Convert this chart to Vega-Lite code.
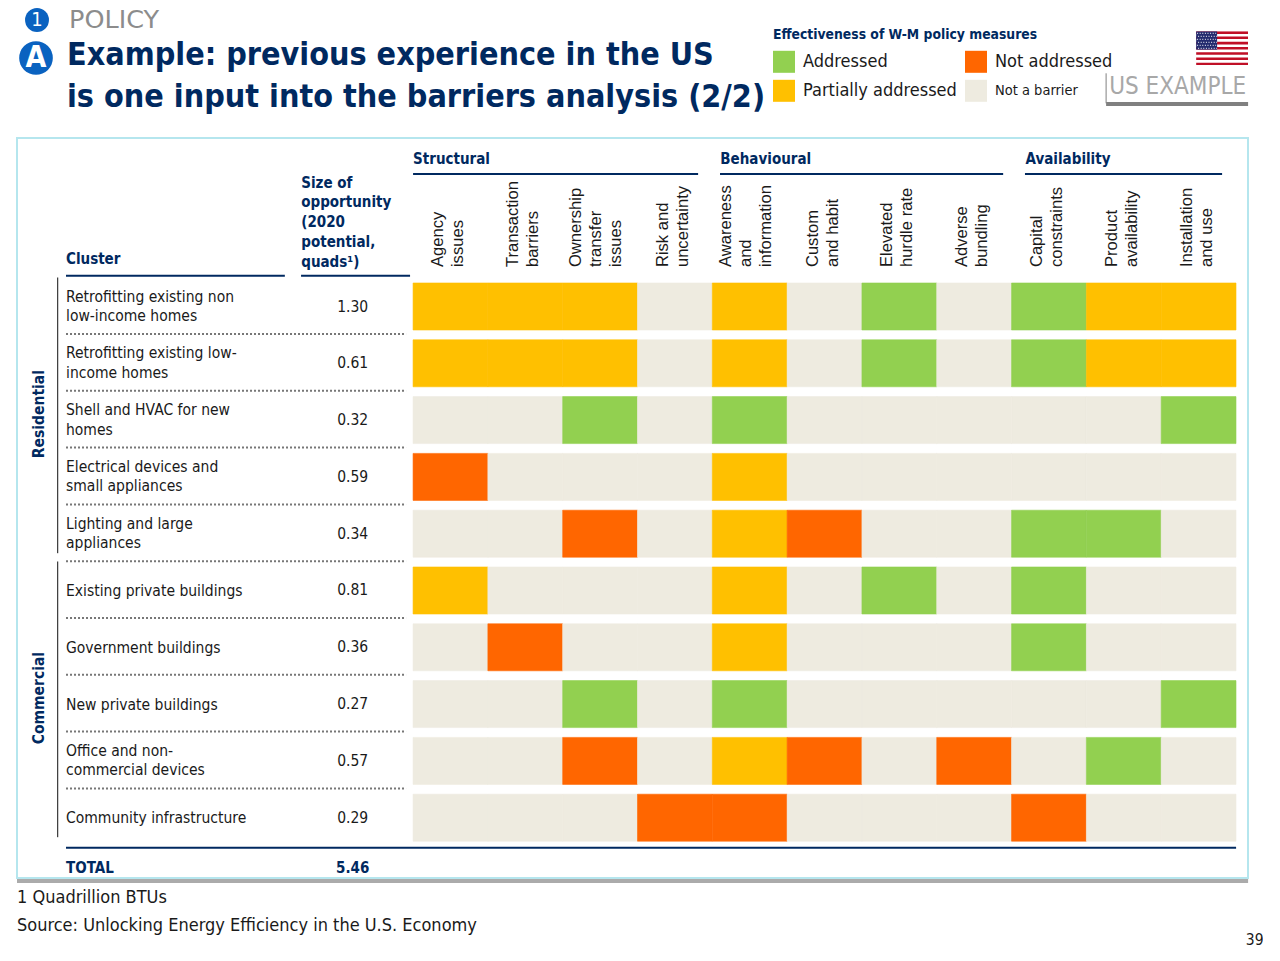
{
  "$schema": "https://vega.github.io/schema/vega-lite/v6.json",
  "autosize": "none",
  "padding": {"left": 17, "top": 138, "right": 15, "bottom": 83},
  "width": 1231,
  "height": 740,
  "background": "white",
  "view": {"stroke": "#b5e6ee", "strokeWidth": 2, "fill": "white"},
  "config": {
    "font": "DejaVu Sans Condensed",
    "axis": {"disable": true},
    "text": {"font": "DejaVu Sans Condensed", "fontSize": 15.5, "color": "#1a1a1a"}
  },
  "datasets": {
    "clusters": [
      {"cluster": "Retrofitting existing non low-income homes", "label": "Retrofitting existing non|low-income homes", "size": 1.30},
      {"cluster": "Retrofitting existing low-income homes", "label": "Retrofitting existing low-|income homes", "size": 0.61},
      {"cluster": "Shell and HVAC for new homes", "label": "Shell and HVAC for new|homes", "size": 0.32},
      {"cluster": "Electrical devices and small appliances", "label": "Electrical devices and|small appliances", "size": 0.59},
      {"cluster": "Lighting and large appliances", "label": "Lighting and large|appliances", "size": 0.34},
      {"cluster": "Existing private buildings", "label": "Existing private buildings", "size": 0.81},
      {"cluster": "Government buildings", "label": "Government buildings", "size": 0.36},
      {"cluster": "New private buildings", "label": "New private buildings", "size": 0.27},
      {"cluster": "Office and non-commercial devices", "label": "Office and non-|commercial devices", "size": 0.57},
      {"cluster": "Community infrastructure", "label": "Community infrastructure", "size": 0.29}
    ],
    "barriers": [
      {"barrier": "Agency issues", "label": "Agency|issues"},
      {"barrier": "Transaction barriers", "label": "Transaction|barriers"},
      {"barrier": "Ownership transfer issues", "label": "Ownership|transfer|issues"},
      {"barrier": "Risk and uncertainty", "label": "Risk and|uncertainty"},
      {"barrier": "Awareness and information", "label": "Awareness|and|information"},
      {"barrier": "Custom and habit", "label": "Custom|and habit"},
      {"barrier": "Elevated hurdle rate", "label": "Elevated|hurdle rate"},
      {"barrier": "Adverse bundling", "label": "Adverse|bundling"},
      {"barrier": "Capital constraints", "label": "Capital|constraints"},
      {"barrier": "Product availability", "label": "Product|availability"},
      {"barrier": "Installation and use", "label": "Installation|and use"}
    ],
    "cells": [
      {"cluster": "Retrofitting existing non low-income homes", "barrier": "Agency issues", "status": "Partially addressed"},
      {"cluster": "Retrofitting existing non low-income homes", "barrier": "Transaction barriers", "status": "Partially addressed"},
      {"cluster": "Retrofitting existing non low-income homes", "barrier": "Ownership transfer issues", "status": "Partially addressed"},
      {"cluster": "Retrofitting existing non low-income homes", "barrier": "Risk and uncertainty", "status": "Not a barrier"},
      {"cluster": "Retrofitting existing non low-income homes", "barrier": "Awareness and information", "status": "Partially addressed"},
      {"cluster": "Retrofitting existing non low-income homes", "barrier": "Custom and habit", "status": "Not a barrier"},
      {"cluster": "Retrofitting existing non low-income homes", "barrier": "Elevated hurdle rate", "status": "Addressed"},
      {"cluster": "Retrofitting existing non low-income homes", "barrier": "Adverse bundling", "status": "Not a barrier"},
      {"cluster": "Retrofitting existing non low-income homes", "barrier": "Capital constraints", "status": "Addressed"},
      {"cluster": "Retrofitting existing non low-income homes", "barrier": "Product availability", "status": "Partially addressed"},
      {"cluster": "Retrofitting existing non low-income homes", "barrier": "Installation and use", "status": "Partially addressed"},
      {"cluster": "Retrofitting existing low-income homes", "barrier": "Agency issues", "status": "Partially addressed"},
      {"cluster": "Retrofitting existing low-income homes", "barrier": "Transaction barriers", "status": "Partially addressed"},
      {"cluster": "Retrofitting existing low-income homes", "barrier": "Ownership transfer issues", "status": "Partially addressed"},
      {"cluster": "Retrofitting existing low-income homes", "barrier": "Risk and uncertainty", "status": "Not a barrier"},
      {"cluster": "Retrofitting existing low-income homes", "barrier": "Awareness and information", "status": "Partially addressed"},
      {"cluster": "Retrofitting existing low-income homes", "barrier": "Custom and habit", "status": "Not a barrier"},
      {"cluster": "Retrofitting existing low-income homes", "barrier": "Elevated hurdle rate", "status": "Addressed"},
      {"cluster": "Retrofitting existing low-income homes", "barrier": "Adverse bundling", "status": "Not a barrier"},
      {"cluster": "Retrofitting existing low-income homes", "barrier": "Capital constraints", "status": "Addressed"},
      {"cluster": "Retrofitting existing low-income homes", "barrier": "Product availability", "status": "Partially addressed"},
      {"cluster": "Retrofitting existing low-income homes", "barrier": "Installation and use", "status": "Partially addressed"},
      {"cluster": "Shell and HVAC for new homes", "barrier": "Agency issues", "status": "Not a barrier"},
      {"cluster": "Shell and HVAC for new homes", "barrier": "Transaction barriers", "status": "Not a barrier"},
      {"cluster": "Shell and HVAC for new homes", "barrier": "Ownership transfer issues", "status": "Addressed"},
      {"cluster": "Shell and HVAC for new homes", "barrier": "Risk and uncertainty", "status": "Not a barrier"},
      {"cluster": "Shell and HVAC for new homes", "barrier": "Awareness and information", "status": "Addressed"},
      {"cluster": "Shell and HVAC for new homes", "barrier": "Custom and habit", "status": "Not a barrier"},
      {"cluster": "Shell and HVAC for new homes", "barrier": "Elevated hurdle rate", "status": "Not a barrier"},
      {"cluster": "Shell and HVAC for new homes", "barrier": "Adverse bundling", "status": "Not a barrier"},
      {"cluster": "Shell and HVAC for new homes", "barrier": "Capital constraints", "status": "Not a barrier"},
      {"cluster": "Shell and HVAC for new homes", "barrier": "Product availability", "status": "Not a barrier"},
      {"cluster": "Shell and HVAC for new homes", "barrier": "Installation and use", "status": "Addressed"},
      {"cluster": "Electrical devices and small appliances", "barrier": "Agency issues", "status": "Not addressed"},
      {"cluster": "Electrical devices and small appliances", "barrier": "Transaction barriers", "status": "Not a barrier"},
      {"cluster": "Electrical devices and small appliances", "barrier": "Ownership transfer issues", "status": "Not a barrier"},
      {"cluster": "Electrical devices and small appliances", "barrier": "Risk and uncertainty", "status": "Not a barrier"},
      {"cluster": "Electrical devices and small appliances", "barrier": "Awareness and information", "status": "Partially addressed"},
      {"cluster": "Electrical devices and small appliances", "barrier": "Custom and habit", "status": "Not a barrier"},
      {"cluster": "Electrical devices and small appliances", "barrier": "Elevated hurdle rate", "status": "Not a barrier"},
      {"cluster": "Electrical devices and small appliances", "barrier": "Adverse bundling", "status": "Not a barrier"},
      {"cluster": "Electrical devices and small appliances", "barrier": "Capital constraints", "status": "Not a barrier"},
      {"cluster": "Electrical devices and small appliances", "barrier": "Product availability", "status": "Not a barrier"},
      {"cluster": "Electrical devices and small appliances", "barrier": "Installation and use", "status": "Not a barrier"},
      {"cluster": "Lighting and large appliances", "barrier": "Agency issues", "status": "Not a barrier"},
      {"cluster": "Lighting and large appliances", "barrier": "Transaction barriers", "status": "Not a barrier"},
      {"cluster": "Lighting and large appliances", "barrier": "Ownership transfer issues", "status": "Not addressed"},
      {"cluster": "Lighting and large appliances", "barrier": "Risk and uncertainty", "status": "Not a barrier"},
      {"cluster": "Lighting and large appliances", "barrier": "Awareness and information", "status": "Partially addressed"},
      {"cluster": "Lighting and large appliances", "barrier": "Custom and habit", "status": "Not addressed"},
      {"cluster": "Lighting and large appliances", "barrier": "Elevated hurdle rate", "status": "Not a barrier"},
      {"cluster": "Lighting and large appliances", "barrier": "Adverse bundling", "status": "Not a barrier"},
      {"cluster": "Lighting and large appliances", "barrier": "Capital constraints", "status": "Addressed"},
      {"cluster": "Lighting and large appliances", "barrier": "Product availability", "status": "Addressed"},
      {"cluster": "Lighting and large appliances", "barrier": "Installation and use", "status": "Not a barrier"},
      {"cluster": "Existing private buildings", "barrier": "Agency issues", "status": "Partially addressed"},
      {"cluster": "Existing private buildings", "barrier": "Transaction barriers", "status": "Not a barrier"},
      {"cluster": "Existing private buildings", "barrier": "Ownership transfer issues", "status": "Not a barrier"},
      {"cluster": "Existing private buildings", "barrier": "Risk and uncertainty", "status": "Not a barrier"},
      {"cluster": "Existing private buildings", "barrier": "Awareness and information", "status": "Partially addressed"},
      {"cluster": "Existing private buildings", "barrier": "Custom and habit", "status": "Not a barrier"},
      {"cluster": "Existing private buildings", "barrier": "Elevated hurdle rate", "status": "Addressed"},
      {"cluster": "Existing private buildings", "barrier": "Adverse bundling", "status": "Not a barrier"},
      {"cluster": "Existing private buildings", "barrier": "Capital constraints", "status": "Addressed"},
      {"cluster": "Existing private buildings", "barrier": "Product availability", "status": "Not a barrier"},
      {"cluster": "Existing private buildings", "barrier": "Installation and use", "status": "Not a barrier"},
      {"cluster": "Government buildings", "barrier": "Agency issues", "status": "Not a barrier"},
      {"cluster": "Government buildings", "barrier": "Transaction barriers", "status": "Not addressed"},
      {"cluster": "Government buildings", "barrier": "Ownership transfer issues", "status": "Not a barrier"},
      {"cluster": "Government buildings", "barrier": "Risk and uncertainty", "status": "Not a barrier"},
      {"cluster": "Government buildings", "barrier": "Awareness and information", "status": "Partially addressed"},
      {"cluster": "Government buildings", "barrier": "Custom and habit", "status": "Not a barrier"},
      {"cluster": "Government buildings", "barrier": "Elevated hurdle rate", "status": "Not a barrier"},
      {"cluster": "Government buildings", "barrier": "Adverse bundling", "status": "Not a barrier"},
      {"cluster": "Government buildings", "barrier": "Capital constraints", "status": "Addressed"},
      {"cluster": "Government buildings", "barrier": "Product availability", "status": "Not a barrier"},
      {"cluster": "Government buildings", "barrier": "Installation and use", "status": "Not a barrier"},
      {"cluster": "New private buildings", "barrier": "Agency issues", "status": "Not a barrier"},
      {"cluster": "New private buildings", "barrier": "Transaction barriers", "status": "Not a barrier"},
      {"cluster": "New private buildings", "barrier": "Ownership transfer issues", "status": "Addressed"},
      {"cluster": "New private buildings", "barrier": "Risk and uncertainty", "status": "Not a barrier"},
      {"cluster": "New private buildings", "barrier": "Awareness and information", "status": "Addressed"},
      {"cluster": "New private buildings", "barrier": "Custom and habit", "status": "Not a barrier"},
      {"cluster": "New private buildings", "barrier": "Elevated hurdle rate", "status": "Not a barrier"},
      {"cluster": "New private buildings", "barrier": "Adverse bundling", "status": "Not a barrier"},
      {"cluster": "New private buildings", "barrier": "Capital constraints", "status": "Not a barrier"},
      {"cluster": "New private buildings", "barrier": "Product availability", "status": "Not a barrier"},
      {"cluster": "New private buildings", "barrier": "Installation and use", "status": "Addressed"},
      {"cluster": "Office and non-commercial devices", "barrier": "Agency issues", "status": "Not a barrier"},
      {"cluster": "Office and non-commercial devices", "barrier": "Transaction barriers", "status": "Not a barrier"},
      {"cluster": "Office and non-commercial devices", "barrier": "Ownership transfer issues", "status": "Not addressed"},
      {"cluster": "Office and non-commercial devices", "barrier": "Risk and uncertainty", "status": "Not a barrier"},
      {"cluster": "Office and non-commercial devices", "barrier": "Awareness and information", "status": "Partially addressed"},
      {"cluster": "Office and non-commercial devices", "barrier": "Custom and habit", "status": "Not addressed"},
      {"cluster": "Office and non-commercial devices", "barrier": "Elevated hurdle rate", "status": "Not a barrier"},
      {"cluster": "Office and non-commercial devices", "barrier": "Adverse bundling", "status": "Not addressed"},
      {"cluster": "Office and non-commercial devices", "barrier": "Capital constraints", "status": "Not a barrier"},
      {"cluster": "Office and non-commercial devices", "barrier": "Product availability", "status": "Addressed"},
      {"cluster": "Office and non-commercial devices", "barrier": "Installation and use", "status": "Not a barrier"},
      {"cluster": "Community infrastructure", "barrier": "Agency issues", "status": "Not a barrier"},
      {"cluster": "Community infrastructure", "barrier": "Transaction barriers", "status": "Not a barrier"},
      {"cluster": "Community infrastructure", "barrier": "Ownership transfer issues", "status": "Not a barrier"},
      {"cluster": "Community infrastructure", "barrier": "Risk and uncertainty", "status": "Not addressed"},
      {"cluster": "Community infrastructure", "barrier": "Awareness and information", "status": "Not addressed"},
      {"cluster": "Community infrastructure", "barrier": "Custom and habit", "status": "Not a barrier"},
      {"cluster": "Community infrastructure", "barrier": "Elevated hurdle rate", "status": "Not a barrier"},
      {"cluster": "Community infrastructure", "barrier": "Adverse bundling", "status": "Not a barrier"},
      {"cluster": "Community infrastructure", "barrier": "Capital constraints", "status": "Not addressed"},
      {"cluster": "Community infrastructure", "barrier": "Product availability", "status": "Not a barrier"},
      {"cluster": "Community infrastructure", "barrier": "Installation and use", "status": "Not a barrier"}
    ]
  },
  "data": {"name": "cells"},
  "layer": [
    {
      "mark": {"type": "rect", "strokeWidth": 0.6},
      "encoding": {
        "x": {
          "field": "barrier",
          "type": "nominal",
          "scale": {
            "domain": ["Sector", "Cluster", "Spacer1", "Spacer2", "Size", "Agency issues", "Transaction barriers", "Ownership transfer issues", "Risk and uncertainty", "Awareness and information", "Custom and habit", "Elevated hurdle rate", "Adverse bundling", "Capital constraints", "Product availability", "Installation and use"],
            "range": [22, 1219],
            "paddingInner": 0,
            "paddingOuter": 0
          }
        },
        "y": {
          "field": "cluster",
          "type": "nominal",
          "scale": {
            "domain": ["Head1", "Head2", "Head3", "Group", "Columns", "Retrofitting existing non low-income homes", "Retrofitting existing low-income homes", "Shell and HVAC for new homes", "Electrical devices and small appliances", "Lighting and large appliances", "Existing private buildings", "Government buildings", "New private buildings", "Office and non-commercial devices", "Community infrastructure", "TOTAL", "Notes"],
            "range": [-139, 816.8],
            "paddingInner": 0.1725,
            "paddingOuter": 0
          }
        },
        "stroke": {
          "field": "status",
          "type": "nominal",
          "scale": {
            "domain": ["Addressed", "Not addressed", "Partially addressed", "Not a barrier"],
            "range": ["#92d050", "#ff6600", "#ffc000", "#eeebe0"]
          },
          "legend": null
        },
        "color": {
          "field": "status",
          "type": "nominal",
          "scale": {
            "domain": ["Addressed", "Not addressed", "Partially addressed", "Not a barrier"],
            "range": ["#92d050", "#ff6600", "#ffc000", "#eeebe0"]
          },
          "legend": {
            "orient": "none",
            "legendX": 756,
            "legendY": -110,
            "columns": 2,
            "direction": "horizontal",
            "title": "Effectiveness of W-M policy measures",
            "titleFont": "DejaVu Sans Condensed",
            "titleFontSize": 13.8,
            "titleFontWeight": "bold",
            "titleColor": "#002960",
            "titlePadding": 9,
            "titleLimit": 400,
            "symbolType": "square",
            "symbolSize": 484,
            "symbolStrokeWidth": 0,
            "labelFont": "DejaVu Sans Condensed",
            "labelFontSize": 18,
            "labelColor": "#1a1a1a",
            "labelOffset": 8,
            "labelLimit": 200,
            "columnPadding": 8,
            "rowPadding": 7,
            "encoding": {
              "labels": {"fontSize": {"condition": {"test": "datum.label === 'Not a barrier'", "value": 14.5}, "value": 18}}
            }
          }
        }
      }
    },
    {
      "data": {"values": [{"text": "Example: previous experience in the US|is one input into the barriers analysis (2/2)"}]},
      "mark": {"type": "text", "align": "left", "baseline": "middle", "lineBreak": "|", "lineHeight": 42, "fontSize": 32, "fontWeight": "bold", "color": "#002960", "dx": 28, "dy": -24},
      "encoding": {
        "x": {"datum": "Sector", "bandPosition": 0},
        "y": {"datum": "Head2"},
        "text": {"field": "text"}
      }
    },
    {
      "data": {"values": [{"note": "panel shadow"}]},
      "mark": {"type": "rule", "color": "#888888", "opacity": 0.7, "strokeWidth": 4, "xOffset": -59.4, "x2Offset": 49.5, "yOffset": 6.5},
      "encoding": {
        "x": {"datum": "Sector"},
        "x2": {"datum": "Installation and use"},
        "y": {"datum": "TOTAL"}
      }
    },
    {
      "data": {"name": "clusters"},
      "transform": [{"filter": "indexof(datum.label, '|') >= 0"}],
      "mark": {"type": "text", "align": "left", "baseline": "middle", "lineBreak": "|", "lineHeight": 19.5, "dx": 27, "dy": -10},
      "encoding": {
        "x": {"datum": "Sector", "bandPosition": 0},
        "y": {"field": "cluster", "type": "nominal"},
        "text": {"field": "label"}
      }
    },
    {
      "data": {"name": "clusters"},
      "transform": [{"filter": "indexof(datum.label, '|') < 0"}],
      "mark": {"type": "text", "align": "left", "baseline": "middle", "dx": 27, "dy": 0.5},
      "encoding": {
        "x": {"datum": "Sector", "bandPosition": 0},
        "y": {"field": "cluster", "type": "nominal"},
        "text": {"field": "label"}
      }
    },
    {
      "data": {"name": "clusters"},
      "mark": {"type": "text", "align": "center", "baseline": "middle", "dx": -23},
      "encoding": {
        "x": {"datum": "Size"},
        "y": {"field": "cluster", "type": "nominal"},
        "text": {"field": "size", "type": "quantitative", "format": ".2f"}
      }
    },
    {
      "data": {"name": "clusters"},
      "transform": [{"filter": "datum.cluster !== 'Community infrastructure'"}],
      "mark": {"type": "rule", "color": "#777777", "strokeWidth": 2, "strokeDash": [2, 2], "xOffset": -10.4, "x2Offset": 30.4, "yOffset": 27.5},
      "encoding": {
        "x": {"datum": "Sector"},
        "x2": {"datum": "Size"},
        "y": {"field": "cluster", "type": "nominal"}
      }
    },
    {
      "data": {"values": [
        {"first": "Retrofitting existing non low-income homes", "last": "Lighting and large appliances"},
        {"first": "Existing private buildings", "last": "Community infrastructure"}
      ]},
      "mark": {"type": "rule", "color": "#111111", "strokeWidth": 1, "yOffset": -29, "y2Offset": 19.5},
      "encoding": {
        "x": {"datum": "Sector", "bandPosition": 0.25},
        "y": {"field": "first", "type": "nominal"},
        "y2": {"field": "last"}
      }
    },
    {
      "data": {"values": [
        {"sector": "Residential", "cluster": "Shell and HVAC for new homes"},
        {"sector": "Commercial", "cluster": "New private buildings"}
      ]},
      "mark": {"type": "text", "angle": 270, "align": "center", "baseline": "middle", "fontWeight": "bold", "color": "#002960", "fontSize": 15.5, "dx": 6},
      "encoding": {
        "x": {"datum": "Sector", "bandPosition": 0},
        "y": {"field": "cluster", "type": "nominal"},
        "text": {"field": "sector"}
      }
    },
    {
      "data": {"name": "barriers"},
      "transform": [{"filter": "split(datum.label, '|').length === 2"}],
      "mark": {"type": "text", "font": "Liberation Sans", "fontSize": 16.6, "angle": 270, "align": "left", "baseline": "middle", "lineBreak": "|", "lineHeight": 20, "dx": -17.4, "dy": -12},
      "encoding": {
        "x": {"field": "barrier", "type": "nominal"},
        "y": {"datum": "Columns"},
        "text": {"field": "label"}
      }
    },
    {
      "data": {"name": "barriers"},
      "transform": [{"filter": "split(datum.label, '|').length === 3"}],
      "mark": {"type": "text", "font": "Liberation Sans", "fontSize": 16.6, "angle": 270, "align": "left", "baseline": "middle", "lineBreak": "|", "lineHeight": 20, "dx": -17.4, "dy": -24},
      "encoding": {
        "x": {"field": "barrier", "type": "nominal"},
        "y": {"datum": "Columns"},
        "text": {"field": "label"}
      }
    },
    {
      "data": {"values": [{"text": "Structural"}]},
      "mark": {"type": "text", "align": "left", "baseline": "middle", "fontWeight": "bold", "color": "#002960", "fontSize": 15, "dy": -34},
      "encoding": {
        "x": {"datum": "Agency issues", "bandPosition": 0},
        "y": {"datum": "Group"},
        "text": {"field": "text"}
      }
    },
    {
      "data": {"values": [{"text": "Behavioural"}]},
      "mark": {"type": "text", "align": "left", "baseline": "middle", "fontWeight": "bold", "color": "#002960", "fontSize": 15, "dx": 8, "dy": -34},
      "encoding": {
        "x": {"datum": "Awareness and information", "bandPosition": 0},
        "y": {"datum": "Group"},
        "text": {"field": "text"}
      }
    },
    {
      "data": {"values": [{"text": "Availability"}]},
      "mark": {"type": "text", "align": "left", "baseline": "middle", "fontWeight": "bold", "color": "#002960", "fontSize": 15, "dx": 14, "dy": -34},
      "encoding": {
        "x": {"datum": "Capital constraints", "bandPosition": 0},
        "y": {"datum": "Group"},
        "text": {"field": "text"}
      }
    },
    {
      "data": {"values": [{"group": "Structural"}]},
      "mark": {"type": "rule", "color": "#002960", "strokeWidth": 2, "xOffset": -37.4, "x2Offset": 23.2, "yOffset": -19},
      "encoding": {
        "x": {"datum": "Agency issues"},
        "x2": {"datum": "Risk and uncertainty"},
        "y": {"datum": "Group"}
      }
    },
    {
      "data": {"values": [{"group": "Behavioural"}]},
      "mark": {"type": "rule", "color": "#002960", "strokeWidth": 2, "xOffset": -29.7, "x2Offset": 29, "yOffset": -19},
      "encoding": {
        "x": {"datum": "Awareness and information"},
        "x2": {"datum": "Adverse bundling"},
        "y": {"datum": "Group"}
      }
    },
    {
      "data": {"values": [{"group": "Availability"}]},
      "mark": {"type": "rule", "color": "#002960", "strokeWidth": 2, "xOffset": -24, "x2Offset": 23.5, "yOffset": -19},
      "encoding": {
        "x": {"datum": "Capital constraints"},
        "x2": {"datum": "Installation and use"},
        "y": {"datum": "Group"}
      }
    },
    {
      "data": {"values": [{"text": "Cluster"}]},
      "mark": {"type": "text", "align": "left", "baseline": "middle", "fontWeight": "bold", "color": "#002960", "fontSize": 15, "dx": 27, "dy": 9.5},
      "encoding": {
        "x": {"datum": "Sector", "bandPosition": 0},
        "y": {"datum": "Columns"},
        "text": {"field": "text"}
      }
    },
    {
      "data": {"values": [{"text": "Size of|opportunity|(2020|potential,|quads¹)"}]},
      "mark": {"type": "text", "align": "left", "baseline": "middle", "lineBreak": "|", "lineHeight": 19.8, "fontWeight": "bold", "color": "#002960", "fontSize": 15, "dx": -37, "dy": -67},
      "encoding": {
        "x": {"datum": "Size", "bandPosition": 0},
        "y": {"datum": "Columns"},
        "text": {"field": "text"}
      }
    },
    {
      "data": {"values": [{"line": "Cluster"}]},
      "mark": {"type": "rule", "color": "#002960", "strokeWidth": 2, "xOffset": -10.4, "x2Offset": -16, "yOffset": 26},
      "encoding": {
        "x": {"datum": "Sector"},
        "x2": {"datum": "Spacer2"},
        "y": {"datum": "Columns"}
      }
    },
    {
      "data": {"values": [{"line": "Size"}]},
      "mark": {"type": "rule", "color": "#002960", "strokeWidth": 2, "xOffset": -74.6, "x2Offset": 34.4, "yOffset": 26},
      "encoding": {
        "x": {"datum": "Size"},
        "x2": {"datum": "Size"},
        "y": {"datum": "Columns"}
      }
    },
    {
      "data": {"values": [{"line": "Total"}]},
      "mark": {"type": "rule", "color": "#002960", "strokeWidth": 2, "xOffset": -10.4, "x2Offset": 37.5, "yOffset": 30},
      "encoding": {
        "x": {"datum": "Sector"},
        "x2": {"datum": "Installation and use"},
        "y": {"datum": "Community infrastructure"}
      }
    },
    {
      "data": {"values": [{"text": "TOTAL"}]},
      "mark": {"type": "text", "align": "left", "baseline": "middle", "fontWeight": "bold", "color": "#002960", "fontSize": 15, "dx": 27, "dy": -6},
      "encoding": {
        "x": {"datum": "Sector", "bandPosition": 0},
        "y": {"datum": "TOTAL"},
        "text": {"field": "text"}
      }
    },
    {
      "data": {"values": [{"total": 5.46}]},
      "mark": {"type": "text", "align": "center", "baseline": "middle", "fontWeight": "bold", "color": "#002960", "fontSize": 15, "dx": -23, "dy": -6},
      "encoding": {
        "x": {"datum": "Size"},
        "y": {"datum": "TOTAL"},
        "text": {"field": "total", "type": "quantitative", "format": ".2f"}
      }
    },
    {
      "data": {"values": [{"text": "1 Quadrillion BTUs"}]},
      "mark": {"type": "text", "align": "left", "baseline": "middle", "fontSize": 18, "dx": -22, "dy": -33},
      "encoding": {
        "x": {"datum": "Sector", "bandPosition": 0},
        "y": {"datum": "Notes"},
        "text": {"field": "text"}
      }
    },
    {
      "data": {"values": [{"text": "Source: Unlocking Energy Efficiency in the U.S. Economy"}]},
      "mark": {"type": "text", "align": "left", "baseline": "middle", "fontSize": 18, "dx": -22, "dy": -5},
      "encoding": {
        "x": {"datum": "Sector", "bandPosition": 0},
        "y": {"datum": "Notes"},
        "text": {"field": "text"}
      }
    },
    {
      "data": {"values": [{"page": 39}]},
      "mark": {"type": "text", "align": "right", "baseline": "middle", "fontSize": 15.5, "dx": 65, "dy": 9},
      "encoding": {
        "x": {"datum": "Installation and use"},
        "y": {"datum": "Notes"},
        "text": {"field": "page", "type": "quantitative"}
      }
    },
    {
      "data": {"values": [{"text": "POLICY"}]},
      "mark": {"type": "text", "font": "DejaVu Sans", "align": "left", "baseline": "middle", "fontSize": 25.5, "color": "#8c8c8c", "dx": 30, "dy": -3},
      "encoding": {
        "x": {"datum": "Sector", "bandPosition": 0},
        "y": {"datum": "Head1"},
        "text": {"field": "text"}
      }
    },
    {
      "data": {"values": [{"badge": "1"}]},
      "mark": {"type": "circle", "size": 572, "opacity": 1, "color": "#0a62c0", "xOffset": -39.4, "yOffset": -2.5},
      "encoding": {
        "x": {"datum": "Sector"},
        "y": {"datum": "Head1"}
      }
    },
    {
      "data": {"values": [{"badge": "1"}]},
      "mark": {"type": "text", "align": "center", "baseline": "middle", "fontSize": 20, "color": "white", "dx": -39.4, "dy": -2.5},
      "encoding": {
        "x": {"datum": "Sector"},
        "y": {"datum": "Head1"},
        "text": {"field": "badge"}
      }
    },
    {
      "data": {"values": [{"badge": "A"}]},
      "mark": {"type": "circle", "size": 1134, "opacity": 1, "color": "#0a62c0", "xOffset": -40.4, "yOffset": -21.3},
      "encoding": {
        "x": {"datum": "Sector"},
        "y": {"datum": "Head2"}
      }
    },
    {
      "data": {"values": [{"badge": "A"}]},
      "mark": {"type": "text", "align": "center", "baseline": "middle", "fontSize": 30, "fontWeight": "bold", "color": "white", "dx": -40.4, "dy": -21.3},
      "encoding": {
        "x": {"datum": "Sector"},
        "y": {"datum": "Head2"},
        "text": {"field": "badge"}
      }
    },
    {
      "data": {"values": [{"text": "US EXAMPLE"}]},
      "mark": {"type": "text", "align": "left", "baseline": "middle", "fontSize": 24, "color": "#a8a8a8", "dx": -52, "dy": 8},
      "encoding": {
        "x": {"datum": "Installation and use", "bandPosition": 0},
        "y": {"datum": "Head2"},
        "text": {"field": "text"}
      }
    },
    {
      "data": {"values": [{"line": "tag side"}]},
      "mark": {"type": "rule", "color": "#808080", "strokeWidth": 1, "xOffset": -92.5, "yOffset": -6, "y2Offset": 24},
      "encoding": {
        "x": {"datum": "Installation and use"},
        "y": {"datum": "Head2"},
        "y2": {"datum": "Head2"}
      }
    },
    {
      "data": {"values": [{"line": "tag base"}]},
      "mark": {"type": "rule", "color": "#808080", "strokeWidth": 4, "xOffset": -92.5, "x2Offset": 49.5, "yOffset": 24.7},
      "encoding": {
        "x": {"datum": "Installation and use"},
        "x2": {"datum": "Installation and use"},
        "y": {"datum": "Head2"}
      }
    },
    {
      "data": {"values": [{"flag": "US"}]},
      "mark": {
        "type": "image",
        "width": 52,
        "height": 34,
        "aspect": false,
        "xOffset": 23.5,
        "yOffset": -31,
        "url": "data:image/svg+xml,%3Csvg xmlns='http://www.w3.org/2000/svg' viewBox='0 0 52 34' width='52' height='34' preserveAspectRatio='none'%3E%3Crect width='52' height='34' fill='%23fff'/%3E%3Cpath fill='%23c00f26' d='M0 0h52v2.6H0zM0 5.2h52v2.6H0zM0 10.5h52v2.6H0zM0 15.7h52v2.6H0zM0 20.9h52v2.6H0zM0 26.2h52v2.6H0zM0 31.4h52V34H0z'/%3E%3Crect width='21' height='18.3' fill='%23232a6e'/%3E%3Cpath stroke='%23fff' stroke-width='1' stroke-dasharray='1 1.6' d='M1 2h19M2 5h19M1 8h19M2 11h19M1 14h19M2 17h19'/%3E%3C/svg%3E"
      },
      "encoding": {
        "x": {"datum": "Installation and use"},
        "y": {"datum": "Head2"}
      }
    }
  ]
}
